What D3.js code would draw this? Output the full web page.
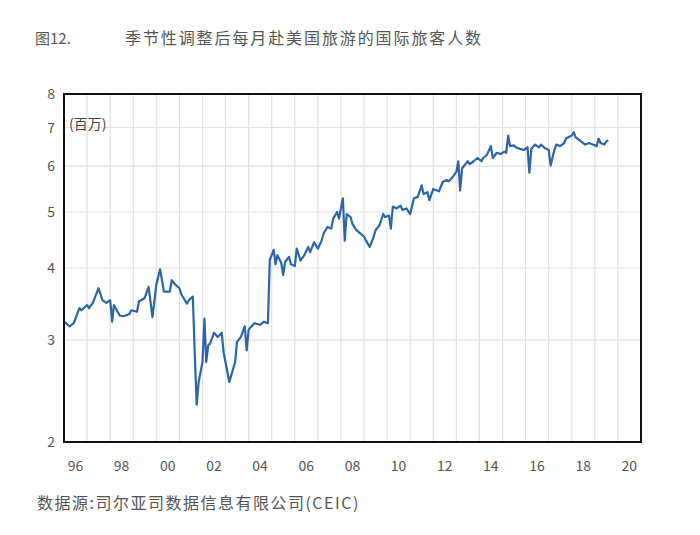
<!DOCTYPE html>
<html>
<head>
<meta charset="utf-8">
<script src="https://cdn.jsdelivr.net/npm/d3@7"></script>
<style>
  html, body { margin: 0; padding: 0; background: #fff; }
  svg { display: block; }
  text { font-family: "Noto Sans CJK SC", "Noto Sans", sans-serif; }
</style>
</head>
<body>
<svg id="chart" width="700" height="535"></svg>
<script>
// ---- data ----
const months = ["1996-01","1996-04","1996-06","1996-09","1996-10","1997-01","1997-02","1997-04","1997-06","1997-07","1997-09","1997-11",
"1998-01","1998-02","1998-03","1998-06","1998-08","1998-11","1998-12","1999-03","1999-04","1999-07","1999-09","1999-11",
"2000-01","2000-03","2000-05","2000-08","2000-09","2000-11","2001-01","2001-02","2001-05","2001-06","2001-08","2001-09","2001-10","2001-11",
"2002-01","2002-02","2002-03","2002-04","2002-05","2002-07","2002-09","2002-11","2002-12","2003-03","2003-06","2003-07","2003-09","2003-11","2003-12",
"2004-01","2004-04","2004-07","2004-09","2004-11","2004-12","2005-02","2005-03","2005-04","2005-06","2005-07","2005-08","2005-10","2005-11",
"2006-01","2006-02","2006-04","2006-06","2006-08","2006-09","2006-11","2007-01","2007-03","2007-04","2007-06","2007-08","2007-09","2007-11","2007-12",
"2008-02","2008-03","2008-04","2008-06","2008-07","2008-09","2008-11","2009-01","2009-02","2009-04","2009-06","2009-07","2009-09","2009-11","2009-12",
"2010-02","2010-03","2010-04","2010-06","2010-08","2010-09","2010-11","2011-01","2011-03","2011-05","2011-07","2011-08","2011-10","2011-11",
"2012-01","2012-02","2012-04","2012-06","2012-08","2012-09","2012-11","2013-01","2013-02","2013-03","2013-04","2013-07","2013-08","2013-10","2013-12",
"2014-02","2014-03","2014-05","2014-07","2014-08","2014-10","2014-12","2015-02","2015-03","2015-04","2015-05","2015-07","2015-08","2015-10","2015-12",
"2016-02","2016-03","2016-04","2016-06","2016-08","2016-09","2016-11","2017-01","2017-02","2017-04","2017-05","2017-07","2017-09","2017-10",
"2018-01","2018-02","2018-03","2018-06","2018-08","2018-10","2018-12","2019-02","2019-03","2019-04","2019-06","2019-07","2019-08"];

const visitors = [3.23,3.17,3.21,3.41,3.38,3.45,3.41,3.48,3.62,3.69,3.52,3.48,
3.52,3.23,3.45,3.31,3.30,3.33,3.38,3.36,3.50,3.55,3.71,3.29,
3.74,3.98,3.64,3.64,3.81,3.74,3.69,3.60,3.47,3.52,3.57,2.83,2.32,2.54,
2.75,3.27,2.75,2.94,2.96,3.09,3.04,3.09,2.86,2.54,2.75,2.98,3.04,3.17,2.88,
3.13,3.21,3.19,3.23,3.21,4.13,4.30,4.06,4.21,4.08,3.89,4.10,4.18,4.06,
4.03,4.32,4.12,4.21,4.35,4.26,4.43,4.32,4.46,4.59,4.71,4.68,4.87,5.00,4.87,
5.28,4.46,4.96,4.90,4.77,4.65,4.59,4.53,4.46,4.35,4.53,4.65,4.74,4.96,4.90,
4.93,4.68,5.11,5.07,5.13,5.04,5.07,4.96,5.28,5.31,5.56,5.37,5.41,5.24,
5.48,5.46,5.43,5.64,5.68,5.65,5.74,5.87,6.12,5.45,5.95,6.12,6.05,6.12,6.20,
6.12,6.20,6.28,6.50,6.20,6.33,6.30,6.36,6.33,6.78,6.50,6.52,6.47,6.43,6.40,
6.47,5.85,6.43,6.54,6.47,6.54,6.45,6.40,6.02,6.40,6.54,6.50,6.58,6.70,
6.78,6.87,6.74,6.62,6.54,6.58,6.54,6.50,6.70,6.58,6.54,6.62,6.66];

const yTicks = [2, 3, 4, 5, 6, 7, 8];
const yGrid = [3, 4, 5, 6, 7];
const xLabelYears = [1996, 1998, 2000, 2002, 2004, 2006, 2008, 2010, 2012, 2014, 2016, 2018, 2020];
const xLabels = ["96","98","00","02","04","06","08","10","12","14","16","18","20"];
const gridYears = d3.range(1997, 2021);

const titleNum = "图12.";
const titleText = "季节性调整后每月赴美国旅游的国际旅客人数";
const unitText = "(百万)";
const sourceText = "数据源:司尔亚司数据信息有限公司(CEIC)";

// ---- layout ----
const frame = { left: 64, right: 641, top: 94, bottom: 442 };
const svg = d3.select("#chart");
const parse = d3.timeParse("%Y-%m");
const data = months.map((m, i) => ({ date: parse(m), value: visitors[i] }));

const x = d3.scaleTime()
  .domain([new Date(1996, 0, 1), new Date(2021, 0, 1)])
  .range([frame.left, frame.right]);
const y = d3.scaleLog()
  .domain([2, 8])
  .range([frame.bottom, frame.top]);

// grid
svg.append("g").selectAll("line.h").data(yGrid).join("line")
  .attr("x1", frame.left).attr("x2", frame.right)
  .attr("y1", d => y(d)).attr("y2", d => y(d))
  .attr("stroke", "#e2e2e2").attr("stroke-width", 1.2);
svg.append("g").selectAll("line.v").data(gridYears).join("line")
  .attr("x1", d => x(new Date(d, 0, 1))).attr("x2", d => x(new Date(d, 0, 1)))
  .attr("y1", frame.top).attr("y2", frame.bottom)
  .attr("stroke", "#e2e2e2").attr("stroke-width", 1.2);

// line
const line = d3.line().x(d => x(d.date)).y(d => y(d.value));
svg.append("path").datum(data)
  .attr("d", line)
  .attr("fill", "none")
  .attr("stroke", "#2c66a3")
  .attr("stroke-width", 2.2)
  .attr("stroke-linejoin", "round");

// frame
svg.append("rect")
  .attr("x", frame.left).attr("y", frame.top)
  .attr("width", frame.right - frame.left).attr("height", frame.bottom - frame.top)
  .attr("fill", "none").attr("stroke", "#111").attr("stroke-width", 2);

// y axis labels
svg.append("g").selectAll("text").data(yTicks).join("text")
  .attr("x", 55).attr("y", d => y(d))
  .attr("dy", "0.36em")
  .attr("text-anchor", "end")
  .attr("font-size", 14).attr("fill", "#555")
  .text(d => d);

// x axis labels (centered in the year)
svg.append("g").selectAll("text").data(xLabelYears).join("text")
  .attr("x", (d) => x(new Date(d, 6, 1)))
  .attr("y", 466)
  .attr("dy", "0.36em")
  .attr("text-anchor", "middle")
  .attr("font-size", 14).attr("fill", "#555")
  .text((d, i) => xLabels[i]);

// unit
svg.append("text").attr("x", 69).attr("y", 129)
  .attr("font-size", 14).attr("fill", "#444").text(unitText);

// title
svg.append("text").attr("x", 35).attr("y", 44)
  .attr("font-size", 15).attr("fill", "#555").text(titleNum);
svg.append("text").attr("x", 125).attr("y", 44)
  .attr("font-size", 16).attr("fill", "#555")
  .attr("letter-spacing", 1.9).text(titleText);

// source
svg.append("text").attr("x", 37).attr("y", 509)
  .attr("font-size", 16).attr("fill", "#555")
  .attr("letter-spacing", 1.5).text(sourceText);
</script>
</body>
</html>
